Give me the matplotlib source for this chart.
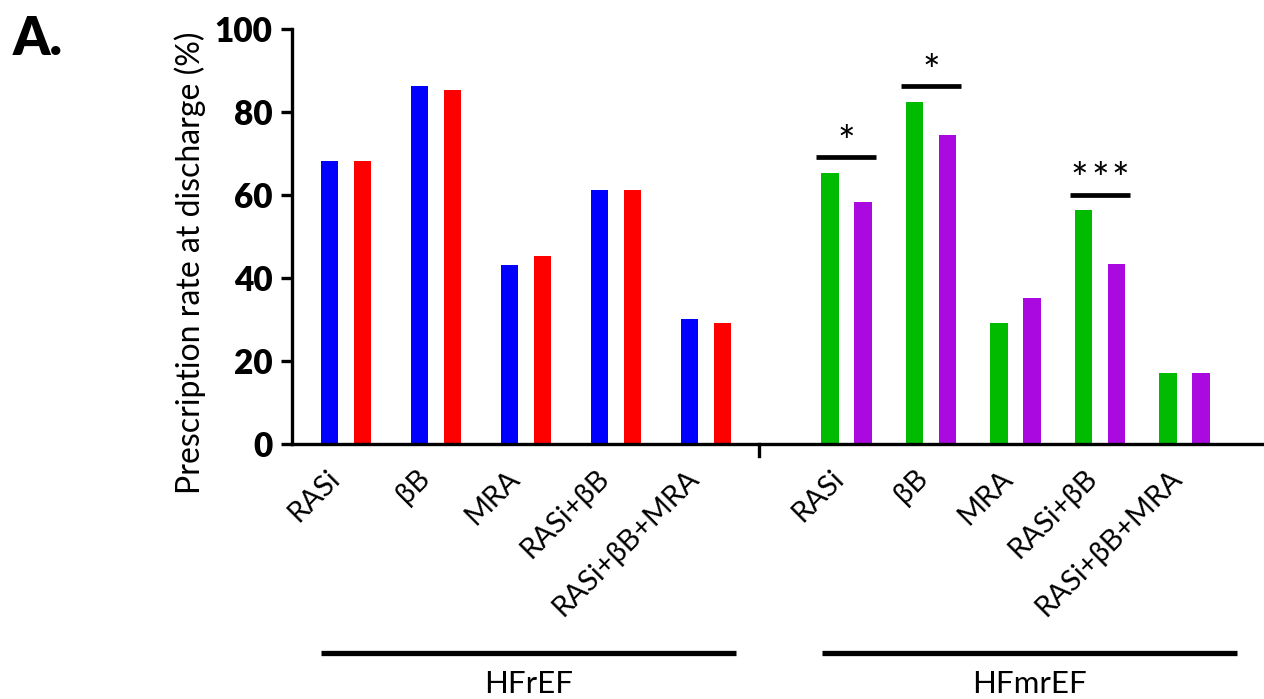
import matplotlib
matplotlib.use("Agg")
import matplotlib.pyplot as plt
import numpy as np

plt.rcParams['font.family'] = ['Lato', 'DejaVu Sans']

drugs = ["RASi", "βB", "MRA", "RASi+βB", "RASi+βB+MRA"]
groups = ["HFrEF", "HFmrEF"]

# prescription rate at discharge (%)
hfref_a = [68.2, 86.3, 43.2, 61.3, 30.1]
hfref_b = [68.2, 85.3, 45.2, 61.3, 29.2]
hfmref_a = [65.4, 82.5, 29.2, 56.3, 17.2]
hfmref_b = [58.3, 74.4, 35.3, 43.3, 17.2]

# significance marks in HFmrEF: (drug index, number of stars)
sig_marks = [(0, 1), (1, 1), (3, 3)]

BLUE, RED = "#0000ff", "#ff0000"
GREEN, PURPLE = "#00bb00", "#aa0ae0"

fig = plt.figure(figsize=(12.64, 6.99), dpi=100)
ax = fig.add_axes([292 / 1264, 1 - 444 / 699, (1262 - 292) / 1264, (444 - 29) / 699])

x1 = np.arange(5) * 1.0
x2 = 5.56 + np.arange(5) * 0.94
off, w = 0.183, 0.195

ax.bar(x1 - off, hfref_a, w, color=BLUE)
ax.bar(x1 + off, hfref_b, w, color=RED)
ax.bar(x2 - off, hfmref_a, w, color=GREEN)
ax.bar(x2 + off, hfmref_b, w, color=PURPLE)

ax.set_xlim(-0.6, 10.18)
ax.set_ylim(0, 100)

for s in ("top", "right"):
    ax.spines[s].set_visible(False)
for s in ("left", "bottom"):
    ax.spines[s].set_linewidth(2.4)

ax.set_yticks([0, 20, 40, 60, 80, 100])
ax.tick_params(axis="y", length=8, width=2.4, pad=6, labelsize=24)
for lab in ax.get_yticklabels():
    lab.set_fontweight("heavy")

# rotated labels, anchored at their top-right end
ax.set_xticks(np.concatenate([x1 - 0.22, x2 - 0.18]))
ax.set_xticklabels(drugs + drugs, rotation=45, ha="right", va="top",
                   rotation_mode="anchor", fontsize=21)
ax.tick_params(axis="x", length=0, pad=15)

# separator tick between the two groups
ax.plot([4.59, 4.59], [0, -0.03], color="black", lw=2.4,
        transform=ax.get_xaxis_transform(), clip_on=False)

ax.set_ylabel("Prescription rate at discharge (%)", fontsize=23)
ax.yaxis.set_label_coords(-0.089, 0.436)

# significance bars
for i, n in sig_marks:
    top = max(hfmref_a[i], hfmref_b[i])
    yl = top + 3.8
    ax.plot([x2[i] - 0.335, x2[i] + 0.335], [yl, yl], color="black", lw=3.4,
            solid_capstyle="butt")
    for k in range(n):
        ax.text(x2[i] + (k - (n - 1) / 2) * 0.23, yl + 0.3, "*",
                ha="center", va="baseline", fontsize=30)

# group brackets
trans = ax.get_xaxis_transform()
spans = [(-0.278, 4.33), (5.294, 9.906)]
for (a, b), name in zip(spans, groups):
    ax.plot([a, b], [-0.503, -0.503], color="black", lw=3.8,
            transform=trans, clip_on=False, solid_capstyle="butt")
    ax.text((a + b) / 2, -0.578, name, ha="center", va="center",
            fontsize=22.5, transform=trans)

fig.text(13 / 1264, 1 - 15 / 699, "A.", fontsize=38, fontweight="heavy",
         ha="left", va="top")

fig.savefig("out.png", dpi=100)
